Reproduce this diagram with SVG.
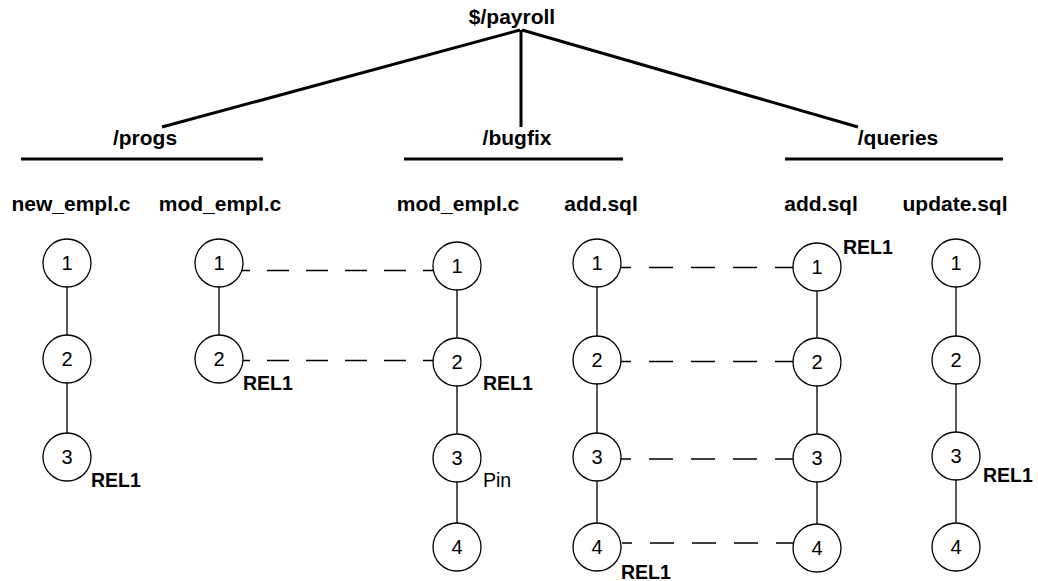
<svg xmlns="http://www.w3.org/2000/svg" width="1038" height="581" viewBox="0 0 1038 581">
<style>
.h{font-family:"Liberation Sans",Arial,sans-serif;font-weight:bold;font-size:21px;text-anchor:middle;fill:#000}
.r{font-family:"Liberation Sans",Arial,sans-serif;font-weight:bold;font-size:19.5px;fill:#000}
.p{font-family:"Liberation Sans",Arial,sans-serif;font-size:19.5px;fill:#000}
.d{font-family:"Liberation Sans",Arial,sans-serif;font-size:20px;text-anchor:middle;fill:#000}
.c{fill:#fff;stroke:#000;stroke-width:1.3}
.t{stroke:#000;stroke-width:3;fill:none}
.v{stroke:#000;stroke-width:1.3;fill:none}
.da{stroke:#000;stroke-width:1.3;fill:none;stroke-dasharray:22 17}
.db{stroke:#000;stroke-width:1.3;fill:none;stroke-dasharray:24 18;stroke-dashoffset:14}
</style>
<g id="connectors">
<line class="t" x1="520" y1="30" x2="162" y2="127"/>
<line class="t" x1="521" y1="30" x2="521" y2="127"/>
<line class="t" x1="522" y1="30" x2="858" y2="127"/>
<line class="t" x1="21" y1="159" x2="263" y2="159"/>
<line class="t" x1="404" y1="159" x2="623" y2="159"/>
<line class="t" x1="785" y1="159" x2="1003" y2="159"/>
<line class="v" x1="67" y1="287" x2="67" y2="335"/>
<line class="v" x1="67" y1="383" x2="67" y2="433"/>
<line class="v" x1="219" y1="287" x2="219" y2="336"/>
<line class="v" x1="457" y1="290" x2="457" y2="338"/>
<line class="v" x1="457" y1="386" x2="457" y2="434"/>
<line class="v" x1="457" y1="482" x2="457" y2="523"/>
<line class="v" x1="597" y1="287" x2="597" y2="336"/>
<line class="v" x1="597" y1="384" x2="597" y2="433"/>
<line class="v" x1="597" y1="481" x2="597" y2="523"/>
<line class="v" x1="817" y1="291" x2="817" y2="338"/>
<line class="v" x1="817" y1="386" x2="817" y2="434"/>
<line class="v" x1="817" y1="482" x2="817" y2="524"/>
<line class="v" x1="956" y1="287" x2="956" y2="336"/>
<line class="v" x1="956" y1="384" x2="956" y2="433"/>
<line class="v" x1="956" y1="480" x2="956" y2="523"/>
<line class="da" x1="240" y1="270.5" x2="433" y2="270.5" stroke-dashoffset="12"/>
<line class="da" x1="240" y1="360.5" x2="433" y2="360.5" stroke-dashoffset="12"/>
<line class="db" x1="621" y1="267.5" x2="793" y2="267.5"/>
<line class="db" x1="621" y1="361.5" x2="793" y2="361.5"/>
<line class="db" x1="621" y1="459" x2="793" y2="459"/>
<line class="db" x1="622" y1="543" x2="793" y2="543"/>
</g>
<g id="labels">
<text class="h" x="512" y="24">$/payroll</text>
<text class="h" x="145" y="145">/progs</text>
<text class="h" x="517" y="145">/bugfix</text>
<text class="h" x="898" y="145">/queries</text>
<text class="h" x="71" y="211">new_empl.c</text>
<text class="h" x="220" y="211">mod_empl.c</text>
<text class="h" x="458" y="211">mod_empl.c</text>
<text class="h" x="601" y="211">add.sql</text>
<text class="h" x="821" y="211">add.sql</text>
<text class="h" x="955" y="211">update.sql</text>
<text class="r" x="91" y="487">REL1</text>
<text class="r" x="243" y="390">REL1</text>
<text class="r" x="483" y="390">REL1</text>
<text class="r" x="621" y="579">REL1</text>
<text class="r" x="843" y="254">REL1</text>
<text class="r" x="983" y="482">REL1</text>
<text class="p" x="483" y="487">Pin</text>
</g>
<g id="n-new-1"><circle class="c" cx="67" cy="263" r="24"/><text class="d" x="67" y="270">1</text></g>
<g id="n-new-2"><circle class="c" cx="67" cy="359" r="24"/><text class="d" x="67" y="366">2</text></g>
<g id="n-new-3"><circle class="c" cx="67" cy="457" r="24"/><text class="d" x="67" y="464">3</text></g>
<g id="n-mod-1"><circle class="c" cx="219" cy="263" r="24"/><text class="d" x="219" y="270">1</text></g>
<g id="n-mod-2"><circle class="c" cx="219" cy="359" r="24"/><text class="d" x="219" y="366">2</text></g>
<g id="n-bmod-1"><circle class="c" cx="457" cy="266" r="24"/><text class="d" x="457" y="273">1</text></g>
<g id="n-bmod-2"><circle class="c" cx="457" cy="362" r="24"/><text class="d" x="457" y="369">2</text></g>
<g id="n-bmod-3"><circle class="c" cx="457" cy="458" r="24"/><text class="d" x="457" y="465">3</text></g>
<g id="n-bmod-4"><circle class="c" cx="457" cy="547" r="24"/><text class="d" x="457" y="554">4</text></g>
<g id="n-badd-1"><circle class="c" cx="597" cy="263" r="24"/><text class="d" x="597" y="270">1</text></g>
<g id="n-badd-2"><circle class="c" cx="597" cy="360" r="24"/><text class="d" x="597" y="367">2</text></g>
<g id="n-badd-3"><circle class="c" cx="597" cy="457" r="24"/><text class="d" x="597" y="464">3</text></g>
<g id="n-badd-4"><circle class="c" cx="597" cy="547" r="24"/><text class="d" x="597" y="554">4</text></g>
<g id="n-qadd-1"><circle class="c" cx="817" cy="267" r="24"/><text class="d" x="817" y="274">1</text></g>
<g id="n-qadd-2"><circle class="c" cx="817" cy="362" r="24"/><text class="d" x="817" y="369">2</text></g>
<g id="n-qadd-3"><circle class="c" cx="817" cy="458" r="24"/><text class="d" x="817" y="465">3</text></g>
<g id="n-qadd-4"><circle class="c" cx="817" cy="548" r="24"/><text class="d" x="817" y="555">4</text></g>
<g id="n-upd-1"><circle class="c" cx="956" cy="263" r="24"/><text class="d" x="956" y="270">1</text></g>
<g id="n-upd-2"><circle class="c" cx="956" cy="360" r="24"/><text class="d" x="956" y="367">2</text></g>
<g id="n-upd-3"><circle class="c" cx="956" cy="456" r="24"/><text class="d" x="956" y="463">3</text></g>
<g id="n-upd-4"><circle class="c" cx="956" cy="547" r="24"/><text class="d" x="956" y="554">4</text></g>
</svg>
